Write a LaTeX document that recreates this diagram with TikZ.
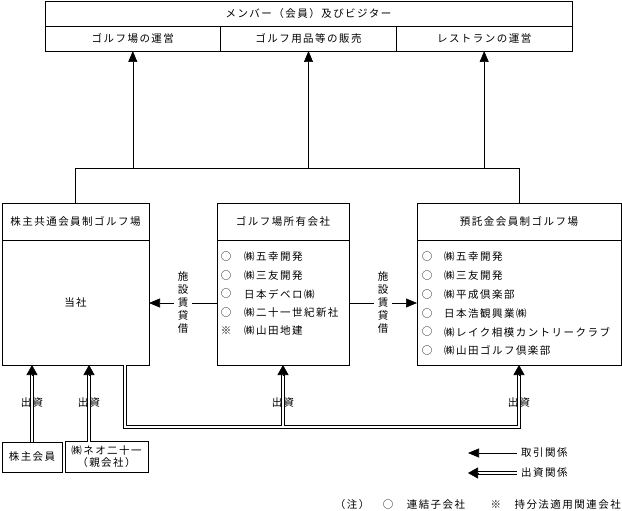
\documentclass[tikz,border=0pt]{standalone}
\usepackage{fontspec}
\setmainfont{Noto Sans CJK JP}[LetterSpace=14]
\usetikzlibrary{arrows.meta,positioning}
\newcommand{\jfont}{\fontsize{10.5}{12}\selectfont}
\newcommand{\vfont}{\fontsize{10.5}{13}\selectfont}

\begin{document}
\begin{tikzpicture}[x=1pt, y=-1pt,
    box/.style={draw, line width=0.6pt, inner sep=0pt, outer sep=0pt, font=\jfont},
    txt/.style={inner sep=0pt, font=\jfont},
    arrow/.style={-{Triangle[length=11pt, width=9pt]}, line width=0.6pt},
    dblline/.style={double, double distance=2.4pt, line width=0.7pt},
    dbltip/.style={-{Triangle[length=10pt, width=11pt]}, line width=0.6pt},
    vlabel/.style={fill=white, align=center, inner xsep=4pt, inner ysep=1pt, font=\vfont}
  ]
  \useasboundingbox (0,0) rectangle (622,511);

  % top: members and services
  \node[box, minimum width=527pt, minimum height=25pt] (visitor) at (308.5,13.5) {メンバー（会員）及びビジター};
  \node[box, minimum width=175.7pt, minimum height=25pt] (golf) at (132.8,38.5) {ゴルフ場の運営};
  \node[box, minimum width=175.7pt, minimum height=25pt] (goods) at (308.5,38.5) {ゴルフ用品等の販売};
  \node[box, minimum width=175.7pt, minimum height=25pt] (rest) at (484.2,38.5) {レストランの運営};

  \coordinate (bus) at (0,168);
  \foreach \n in {golf, goods, rest}
    \draw[arrow] (\n.south |- bus) -- (\n.south);

  % three golf companies
  \node[box, minimum width=147pt, minimum height=162pt] (kyotsu) at (75.5,284) {};
  \node[box, minimum width=132pt, minimum height=162pt] (shoyu) at (283,284) {};
  \node[box, minimum width=204pt, minimum height=162pt] (azukari) at (519,284) {};
  \draw[line width=0.6pt] (kyotsu.north) |- (azukari.north |- bus) -- (azukari.north);

  \foreach \n/\t in {kyotsu/株主共通会員制ゴルフ場, shoyu/ゴルフ場所有会社, azukari/預託金会員制ゴルフ場} {
    \node[txt] (\n title) at (\n.north |- 0,221.5) {\t};
    \draw[line width=0.6pt] (\n.west |- 0,240) -- (\n.east |- 0,240);
  }
  \node[txt] (tosha) at (75.5,303) {当社};

  \foreach \s/\t [count=\i] in {○/㈱五幸開発, ○/㈱三友開発, ○/日本デベロ㈱, ○/㈱二十一世紀新社, ※/㈱山田地建} {
    \node[txt] (ms\i) at (226,238.5+18.5*\i) {\s};
    \node[txt, anchor=west] (mt\i) at (244,238.5+18.5*\i) {\t};
  }
  \foreach \s/\t [count=\i] in {○/㈱五幸開発, ○/㈱三友開発, ○/㈱平成倶楽部, ○/日本浩観興業㈱, ○/㈱レイク相模カントリークラブ, ○/㈱山田ゴルフ倶楽部} {
    \node[txt] (rs\i) at (427,238+18.8*\i) {\s};
    \node[txt, anchor=west] (rt\i) at (444,238+18.8*\i) {\t};
  }

  % facility lease
  \draw[arrow] (shoyu.west |- tosha) -- node[vlabel] (lease1) {施\\設\\賃\\貸\\借} (kyotsu.east |- tosha);
  \draw[arrow] (shoyu.east |- tosha) -- node[vlabel] (lease2) {施\\設\\賃\\貸\\借} (azukari.west |- tosha);

  % investors
  \node[box, minimum width=60pt, minimum height=30pt] (kabunushi) at (32,457) {株主会員};
  \node[box, minimum width=83pt, minimum height=31pt, align=center] (neo) at (106.5,457) {㈱ネオ二十一\\（親会社）};

  \coordinate (in1) at (kyotsu.south -| kabunushi.north);
  \coordinate (in2) at (kyotsu.south -| 89,0);
  \coordinate (in3) at (shoyu.south);
  \coordinate (in4) at (azukari.south);
  \coordinate (jn) at (283,427);
  \coordinate (corner1) at (125,427);
  \coordinate (corner2) at (519,427);
  \draw[dblline] (kabunushi.north) -- ([yshift=-9pt]in1);
  \draw[dblline] (neo.north -| in2) -- ([yshift=-9pt]in2);
  \draw[dblline] (kyotsu.south -| corner1) -- (corner1) -- (corner2) -- ([yshift=-9pt]in4);
  \draw[dblline] ([yshift=1.2pt]jn) -- ([yshift=-9pt]in3);
  \foreach \c [count=\i] in {in1, in2, in3, in4} {
    \draw[dbltip] ([yshift=-10pt]\c) -- (\c);
    \node[txt] (inv\i) at (\c |- 0,403) {出資};
  }

  % legend
  \node[txt, anchor=west] (lgtrade) at (521,453) {取引関係};
  \node[txt, anchor=west] (lginvest) at (521,473) {出資関係};
  \coordinate (tradetip) at (468,453);
  \coordinate (investtip) at (468,473);
  \draw[arrow] ([xshift=-4pt]lgtrade.west) -- (tradetip);
  \draw[dblline] ([xshift=-4pt]lginvest.west) -- ([xshift=9pt]investtip);
  \draw[dbltip] ([xshift=10pt]investtip) -- (investtip);

  \node[txt, anchor=east] (note) at (621,505) {（注）　○　連結子会社　　※　持分法適用関連会社};
\end{tikzpicture}
\end{document}
